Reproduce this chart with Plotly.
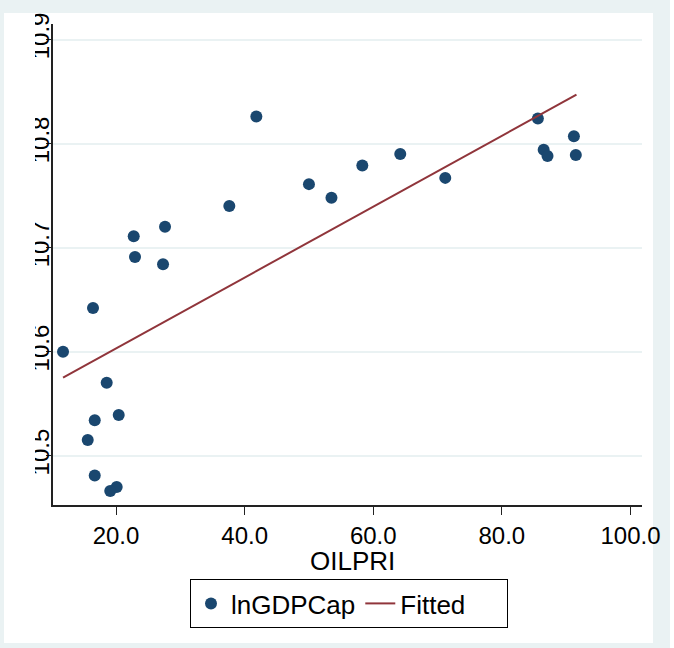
import plotly.graph_objects as go

# Data
oilpri = [11.76, 16.42, 18.55, 20.42, 16.69, 15.6, 16.69, 20.1, 19.1,
          22.75, 22.95, 27.62, 27.31, 37.62, 41.82, 50.0, 53.5, 58.3,
          64.2, 71.2, 85.6, 86.5, 87.1, 91.2, 91.5]
lngdpcap = [10.600, 10.642, 10.570, 10.539, 10.534, 10.515, 10.481, 10.470, 10.466,
            10.711, 10.691, 10.720, 10.684, 10.740, 10.826, 10.761, 10.748, 10.779,
            10.790, 10.767, 10.824, 10.794, 10.788, 10.807, 10.789]
fitted_x = [11.76, 91.6]
fitted_y = [10.575, 10.847]

x_ticks = [20, 40, 60, 80, 100]
x_ticklabels = ["20.0", "40.0", "60.0", "80.0", "100.0"]
y_ticks = [10.5, 10.6, 10.7, 10.8, 10.9]
y_ticklabels = ["10.5", "10.6", "10.7", "10.8", "10.9"]
x_title = "OILPRI"

W, H = 674, 648
ML, MR, MT, MB = 53, 32, 24, 143
PW = W - ML - MR
PH = H - MT - MB


def px_x(p):
    return (p - ML) / PW


def px_y(p):
    return 1 - (p - MT) / PH


FONT = "Liberation Sans, Arial, sans-serif"
BAND = "#EAF2F3"
NB = "\u00a0"

fig = go.Figure()
fig.add_trace(go.Scatter(
    x=oilpri, y=lngdpcap, mode="markers", name="lnGDPCap",
    marker=dict(color="#1A476F", size=12, line=dict(width=0)),
))
fig.add_trace(go.Scatter(
    x=fitted_x, y=fitted_y, mode="lines", name="Fitted" + NB * 5,
    line=dict(color="#90353B", width=2),
))

shapes = [
    dict(type="rect", xref="paper", yref="paper", layer="below",
         x0=px_x(4), x1=px_x(653), y0=px_y(643), y1=px_y(13),
         fillcolor="white", line=dict(width=0)),
    dict(type="rect", xref="paper", yref="paper", layer="below",
         x0=px_x(670), x1=px_x(676), y0=px_y(650), y1=px_y(-2),
         fillcolor="white", line=dict(width=0)),
    # white cover reproducing the clipped y tick labels of the original
    dict(type="rect", xref="paper", yref="paper", layer="above",
         x0=px_x(4), x1=px_x(35), y0=px_y(520), y1=px_y(13),
         fillcolor="white", line=dict(width=0)),
]

fig.update_layout(
    width=W, height=H,
    margin=dict(l=ML, r=MR, t=MT, b=MB, pad=0, autoexpand=False),
    paper_bgcolor=BAND,
    plot_bgcolor="white",
    font=dict(family=FONT, color="black"),
    shapes=shapes,
    showlegend=True,
    legend=dict(
        orientation="h", x=px_x(349), xanchor="center",
        y=px_y(579), yanchor="top",
        bgcolor="white", bordercolor="black", borderwidth=1,
        font=dict(size=26, family=FONT),
        itemwidth=30, tracegroupgap=0,
    ),
    annotations=[dict(
        text=x_title, xref="paper", yref="paper",
        x=px_x(352), y=px_y(561), xanchor="center", yanchor="middle",
        showarrow=False, font=dict(size=26, family=FONT, color="black"),
    )],
    xaxis=dict(
        range=[10.20, 101.79], automargin=False,
        tickmode="array", tickvals=x_ticks, ticktext=x_ticklabels,
        ticks="outside", ticklen=8, tickwidth=1, tickcolor="#222",
        showline=True, linecolor="#222", linewidth=1.5,
        showgrid=False, zeroline=False,
        tickfont=dict(size=24, family=FONT),
    ),
    yaxis=dict(
        range=[10.4526, 10.9149], automargin=False,
        tickmode="array", tickvals=y_ticks, ticktext=y_ticklabels,
        ticks="outside", ticklen=5, tickwidth=1, tickcolor="#222",
        tickangle=-90, ticklabelstandoff=-12,
        showline=True, linecolor="#222", linewidth=1.5,
        showgrid=True, gridcolor=BAND, gridwidth=1.5,
        zeroline=False,
        tickfont=dict(size=24, family=FONT),
    ),
)

fig.write_html("out.html",
               config={"displayModeBar": False},
               post_script="document.body.style.margin='0';")
